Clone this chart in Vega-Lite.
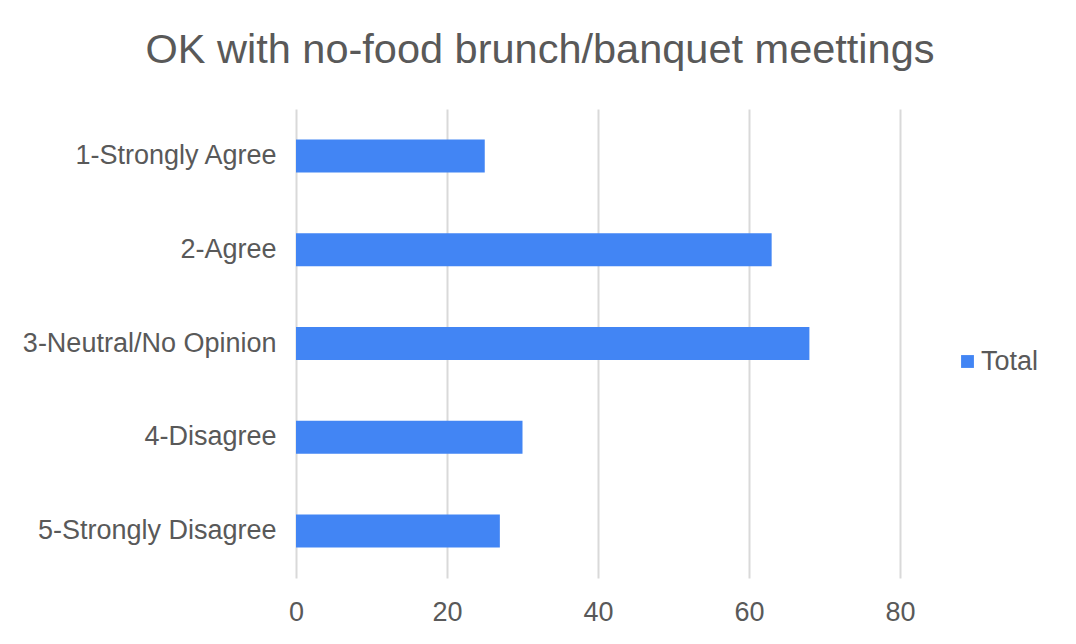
{
  "$schema": "https://vega.github.io/schema/vega-lite/v6.json",
  "autosize": "none",
  "width": 604,
  "height": 469,
  "padding": {"left": 296, "top": 109, "right": 176, "bottom": 66},
  "background": "white",
  "title": {
    "text": "OK with no-food brunch/banquet meettings",
    "anchor": "middle",
    "dx": -58,
    "offset": 5,
    "baseline": "alphabetic",
    "font": "Liberation Sans",
    "fontSize": 41.5,
    "fontWeight": "normal",
    "color": "#595959"
  },
  "data": {
    "values": [
      {"response": "1-Strongly Agree", "count": 25},
      {"response": "2-Agree", "count": 63},
      {"response": "3-Neutral/No Opinion", "count": 68},
      {"response": "4-Disagree", "count": 30},
      {"response": "5-Strongly Disagree", "count": 27}
    ]
  },
  "mark": {"type": "bar"},
  "encoding": {
    "y": {
      "field": "response",
      "type": "nominal",
      "sort": null,
      "scale": {"paddingInner": 0.648, "paddingOuter": 0.324},
      "axis": {
        "title": null,
        "ticks": false,
        "tickSize": 0,
        "domain": false,
        "grid": false,
        "labelPadding": 20,
        "labelFont": "Liberation Sans",
        "labelFontSize": 27,
        "labelColor": "#595959",
        "labelLimit": 400
      }
    },
    "x": {
      "field": "count",
      "type": "quantitative",
      "scale": {"domain": [0, 80], "nice": false},
      "axis": {
        "title": null,
        "values": [0, 20, 40, 60, 80],
        "ticks": false,
        "tickSize": 0,
        "domain": false,
        "grid": true,
        "gridColor": "#d9d9d9",
        "gridWidth": 2,
        "labelPadding": 21,
        "labelBaseline": "top",
        "labelFlush": false,
        "labelFont": "Liberation Sans",
        "labelFontSize": 27,
        "labelColor": "#595959"
      }
    },
    "color": {
      "datum": "Total",
      "scale": {"range": ["#4285f4"]},
      "legend": {
        "title": null,
        "orient": "none",
        "legendX": 658,
        "legendY": 239,
        "padding": 0,
        "symbolType": "square",
        "symbolSize": 165,
        "symbolStrokeWidth": 0,
        "labelFont": "Liberation Sans",
        "labelFontSize": 27,
        "labelColor": "#595959",
        "labelOffset": 0
      }
    }
  },
  "config": {
    "view": {"stroke": null}
  }
}
